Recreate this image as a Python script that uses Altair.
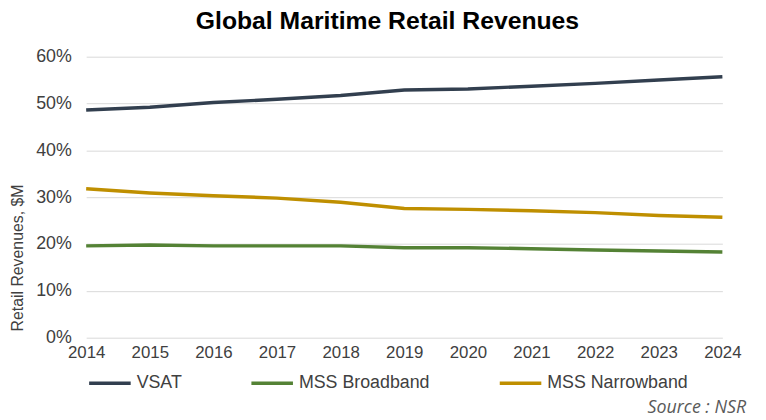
import altair as alt
import pandas as pd

years = list(range(2014, 2025))
vsat = [48.6, 49.2, 50.2, 50.9, 51.7, 52.9, 53.1, 53.7, 54.3, 55.0, 55.7]
mss_broadband = [19.6, 19.8, 19.6, 19.6, 19.6, 19.2, 19.2, 19.0, 18.7, 18.5, 18.3]
mss_narrowband = [31.8, 30.9, 30.3, 29.8, 28.9, 27.6, 27.4, 27.1, 26.7, 26.1, 25.7]
series = ["VSAT", "MSS Broadband", "MSS Narrowband"]
colors = ["#323F4F", "#548235", "#BF8F00"]
y_ticks = [0, 0.1, 0.2, 0.3, 0.4, 0.5, 0.6]

rows = []
for name, vals in zip(series, [vsat, mss_broadband, mss_narrowband]):
    for yr, v in zip(years, vals):
        rows.append({"Year": yr, "Series": name, "Share": v / 100})
df = pd.DataFrame(rows)

FONT = "Liberation Sans"
TXT = "#404040"

lines = alt.Chart(df).mark_line(strokeWidth=3.5).encode(
    x=alt.X("Year:Q",
            scale=alt.Scale(domain=[2014, 2024], nice=False, zero=False),
            axis=alt.Axis(values=years, format="d", title=None, grid=False,
                          ticks=False, domain=False, labelFontSize=17,
                          labelPadding=7, labelColor=TXT, labelFont=FONT,
                          labelFlush=False)),
    y=alt.Y("Share:Q",
            scale=alt.Scale(domain=[0, 0.6], nice=False),
            axis=alt.Axis(values=y_ticks, format=".0%",
                          title="Retail Revenues, $M", titleFont=FONT,
                          titleFontSize=16, titleFontWeight="normal",
                          titleColor=TXT, titleAngle=270, titleY=203,
                          titleX=-69, titleAlign="center",
                          titleBaseline="middle",
                          ticks=False, domain=False, labelFontSize=18,
                          labelPadding=15, labelColor=TXT, labelFont=FONT,
                          gridColor="#d9d9d9", gridWidth=1)),
    color=alt.Color("Series:N", sort=series,
                    scale=alt.Scale(domain=series, range=colors),
                    legend=alt.Legend(title=None, orient="none", legendX=1,
                                      legendY=307, direction="horizontal",
                                      symbolType="stroke", symbolSize=1764,
                                      symbolStrokeWidth=3.5, labelFont=FONT,
                                      labelFontSize=18, labelColor=TXT,
                                      labelOffset=4, columnPadding=63)),
)

source = alt.Chart(pd.DataFrame({"t": ["Source : NSR"]})).mark_text(
    align="right", baseline="middle", font="Open Sans", fontStyle="italic",
    fontSize=18, color="#595959"
).encode(text="t:N", x=alt.value(667), y=alt.value(355))

chart = alt.layer(lines, source).properties(
    width=643, height=284,
    autosize=alt.AutoSizeParams(type="none"),
    padding={"left": 79, "top": 47, "right": 36, "bottom": 81},
    title=alt.TitleParams("Global Maritime Retail Revenues", font=FONT,
                          fontSize=25, fontWeight="bold", color="#000000",
                          anchor="middle", dx=-17, offset=14),
).configure_view(stroke=None)

chart.save("out.html", embed_options={"renderer": "svg", "actions": False})
